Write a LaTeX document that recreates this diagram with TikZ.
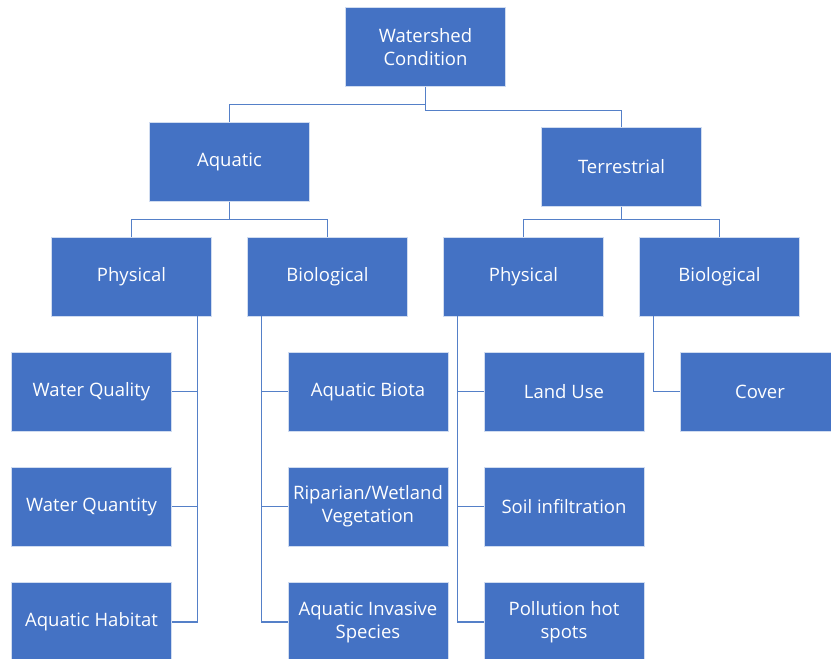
\documentclass[tikz,border=0pt]{standalone}
\usepackage{fontspec}
\setmainfont{Open Sans}
\usetikzlibrary{calc}
\definecolor{boxblue}{HTML}{4472C4}
\definecolor{lineblue}{HTML}{5580C8}
\tikzset{
  caja/.style={rectangle,fill=boxblue,draw=white!75!boxblue,line width=0.6pt,
    text=white,minimum width=160pt,minimum height=79pt,inner sep=0pt,
    align=center,font=\fontsize{18.5}{23}\selectfont},
  enlace/.style={draw=lineblue,line width=1.2pt}
}

\begin{document}
\begin{tikzpicture}[x=1pt,y=-1pt]
  \useasboundingbox (0,0) rectangle (831,659);
  \clip (0,0) rectangle (831,659);

  \node[caja] (ws) at (425.5,47) {Watershed\\Condition};
  \node[caja] (aq) at (229.5,162) {Aquatic};
  \node[caja] (ter) at (621.5,167) {Terrestrial};

  \node[caja] (aphy) at (131.5,276.5) {Physical};
  \node[caja] (abio) at (327.5,276.5) {Biological};
  \node[caja] (tphy) at (523.5,276.5) {Physical};
  \node[caja] (tbio) at (719.5,276.5) {Biological};

  \node[caja] (wq) at (91.5,391.5) {Water Quality};
  \node[caja] (wqt) at (91.5,506.5) {Water Quantity};
  \node[caja] (ah) at (91.5,622) {Aquatic Habitat};

  \node[caja] (ab) at (368,391.5) {Aquatic Biota};
  \node[caja] (rw) at (368,506.5) {Riparian/Wetland\\Vegetation};
  \node[caja] (ai) at (368,622) {Aquatic Invasive\\Species};

  \node[caja] (lu) at (564,391.5) {Land Use};
  \node[caja] (si) at (564,506.5) {Soil infiltration};
  \node[caja] (ph) at (564,622) {Pollution hot\\spots};

  \node[caja] (cov) at (760,391.5) {Cover};

  \draw[enlace] (ws.south) -- ++(0,17.5) -| (aq.north);
  \draw[enlace] (ws.south) -- ++(0,23.5) -| (ter.north);

  \draw[enlace] (aq.south) -- ++(0,17.5) -| (aphy.north);
  \draw[enlace] (aq.south) -- ++(0,17.5) -| (abio.north);
  \draw[enlace] (ter.south) -- ++(0,12.5) -| (tphy.north);
  \draw[enlace] (ter.south) -- ++(0,12.5) -| (tbio.north);

  \draw[enlace] ([xshift=-14pt]aphy.south east) |- (wq.east);
  \draw[enlace] ([xshift=-14pt]aphy.south east) |- (wqt.east);
  \draw[enlace] ([xshift=-14pt]aphy.south east) |- (ah.east);

  \draw[enlace] ([xshift=14pt]abio.south west) |- (ab.west);
  \draw[enlace] ([xshift=14pt]abio.south west) |- (rw.west);
  \draw[enlace] ([xshift=14pt]abio.south west) |- (ai.west);

  \draw[enlace] ([xshift=14pt]tphy.south west) |- (lu.west);
  \draw[enlace] ([xshift=14pt]tphy.south west) |- (si.west);
  \draw[enlace] ([xshift=14pt]tphy.south west) |- (ph.west);

  \draw[enlace] ([xshift=14pt]tbio.south west) |- (cov.west);
\end{tikzpicture}
\end{document}
